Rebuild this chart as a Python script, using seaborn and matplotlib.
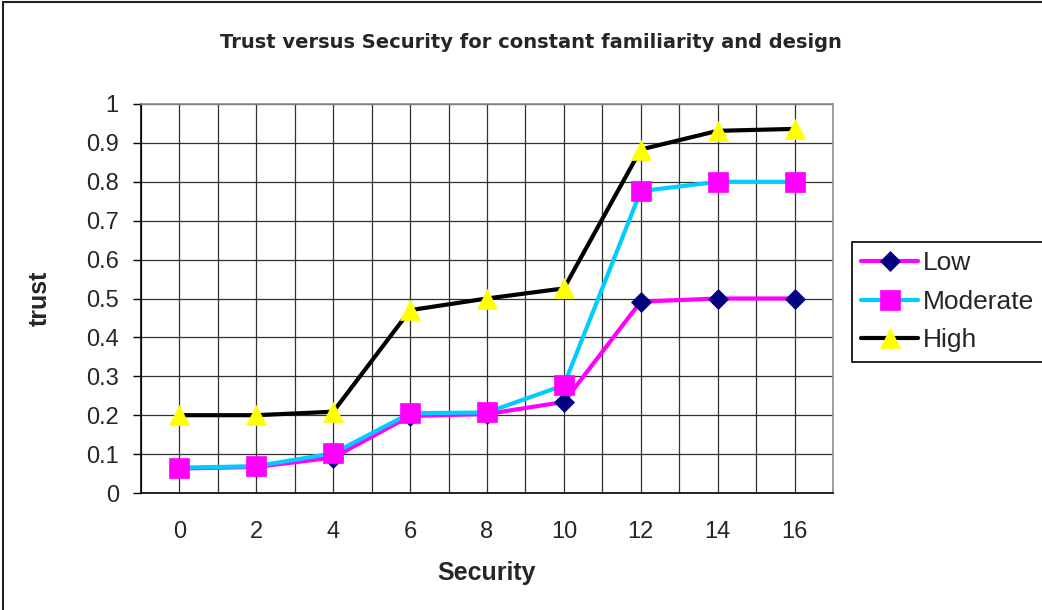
import matplotlib
matplotlib.use("Agg")
import matplotlib.pyplot as plt
import seaborn as sns
import pandas as pd
import numpy as np
from matplotlib.lines import Line2D

# ---- data ----
security = [0, 2, 4, 6, 8, 10, 12, 14, 16]
low = [0.063, 0.067, 0.091, 0.198, 0.203, 0.234, 0.492, 0.500, 0.500]
moderate = [0.065, 0.069, 0.102, 0.205, 0.207, 0.277, 0.776, 0.800, 0.800]
high = [0.200, 0.200, 0.209, 0.470, 0.500, 0.526, 0.883, 0.931, 0.936]
series_names = ["Low", "Moderate", "High"]
y_ticks = [0, 0.1, 0.2, 0.3, 0.4, 0.5, 0.6, 0.7, 0.8, 0.9, 1]
y_tick_labels = ["0", "0.1", "0.2", "0.3", "0.4", "0.5", "0.6", "0.7", "0.8", "0.9", "1"]
title = "Trust versus Security for constant familiarity and design"
x_label = "Security"
y_label = "trust"

df = pd.DataFrame({"Security": security * 3,
                   "trust": low + moderate + high,
                   "level": [n for n in series_names for _ in security]})

styles = {
    "Low": dict(color="#FF00FF", marker="D", markerfacecolor="#000080",
                markeredgecolor="#000080", markersize=10.5),
    "Moderate": dict(color="#00CCFF", marker="s", markerfacecolor="#FF00FF",
                     markeredgecolor="#FF00FF", markersize=14),
    "High": dict(color="black", marker="^", markerfacecolor="#FFFF00",
                 markeredgecolor="#FFFF00", markersize=15),
}

sns.set_style("white")
plt.rcParams["font.family"] = ["Liberation Sans", "DejaVu Sans"]

fig = plt.figure(figsize=(10.42, 6.10), dpi=100)
ax = fig.add_axes([141/1042, 1-493/610, 692/1042, 389/610])

for name in series_names:
    sub = df[df["level"] == name]
    sns.lineplot(data=sub, x="Security", y="trust", ax=ax, lw=3.0,
                 markeredgewidth=0.5, legend=False, label=name,
                 zorder=3, **styles[name])

ax.set_xlim(-1, 17)
ax.set_ylim(0, 1)
ax.set_xticks(security)
ax.set_xticklabels([str(s) for s in security])
ax.set_xticks(np.arange(-1, 18, 2), minor=True)
ax.set_yticks(y_ticks)
ax.set_yticklabels(y_tick_labels)

ax.grid(True, which="both", axis="x", color="#303030", lw=0.9)
ax.grid(True, which="major", axis="y", color="#303030", lw=0.9)
ax.set_axisbelow(True)

ax.tick_params(axis="x", which="major", length=0, pad=20, labelsize=17)
ax.tick_params(axis="x", which="minor", length=6, width=1, color="black", direction="out")
ax.tick_params(axis="y", which="major", length=6, width=1, color="black", direction="out",
               pad=10, labelsize=17, left=True)

for s in ["left", "bottom"]:
    ax.spines[s].set_color("black")
    ax.spines[s].set_linewidth(1.2)
for s in ["top", "right"]:
    ax.spines[s].set_color("#909090")
    ax.spines[s].set_linewidth(1.2)

ax.set_xlabel(x_label, fontsize=18, fontweight="bold", va="center")
ax.xaxis.set_label_coords(0.5, (493-573)/389)
ax.set_ylabel(y_label, fontsize=18, fontweight="bold", va="center")
ax.yaxis.set_label_coords((40-141)/692, 0.5)

fig.text(531/1042, 1-42/610, title, family="DejaVu Sans", fontweight="bold",
         fontsize=14, ha="center", va="center")

handles = [ax.lines[i] for i in range(len(series_names))]
leg = fig.legend(handles, series_names, loc="upper left",
                 bbox_to_anchor=(852/1042, 1-242/610), fontsize=19,
                 frameon=True, fancybox=False, edgecolor="black", framealpha=1,
                 handlelength=2.15, handletextpad=0.2, labelspacing=0.55,
                 borderpad=0.35, borderaxespad=0)
leg.get_frame().set_linewidth(1.2)

# outer chart-area border (top and left visible)
fig.add_artist(Line2D([3/1042, 3/1042], [0, 1-2/610], transform=fig.transFigure,
                      color="#202020", lw=1.5))
fig.add_artist(Line2D([3/1042, 1], [1-2/610, 1-2/610], transform=fig.transFigure,
                      color="#202020", lw=1.5))

fig.savefig("out.png", dpi=100)
